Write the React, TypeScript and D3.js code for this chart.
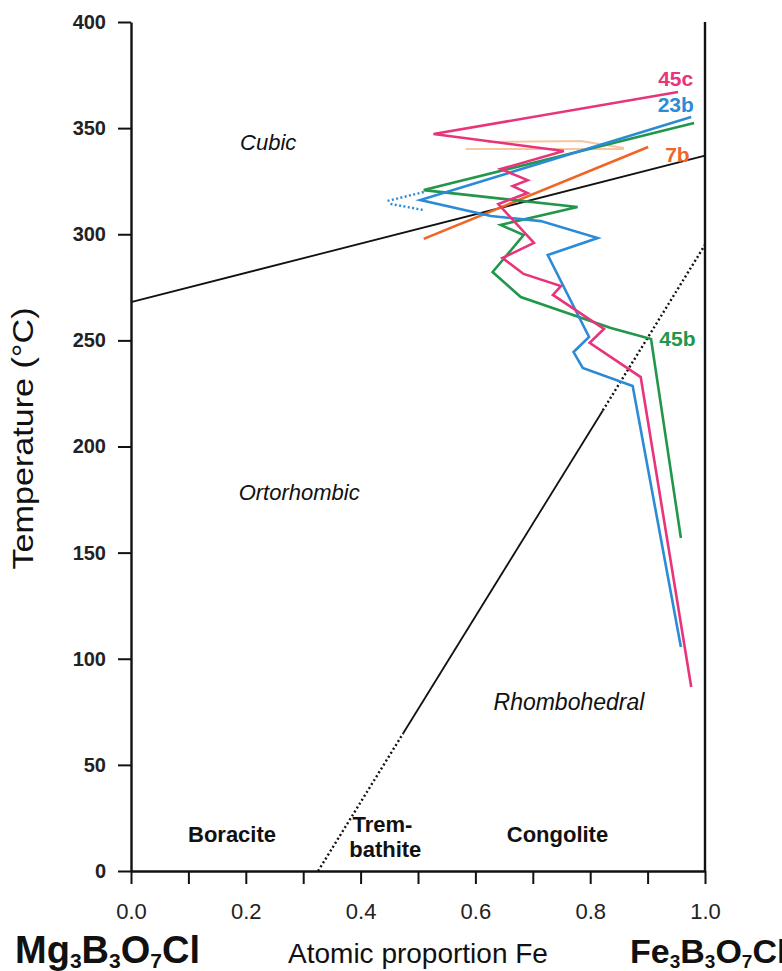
import { useEffect, useRef } from 'react';
import * as d3 from 'd3';

// axis ticks
const xTickValues = [0, 0.1, 0.2, 0.3, 0.4, 0.5, 0.6, 0.7, 0.8, 0.9, 1.0];
const xTickLabels = ['0.0', '', '0.2', '', '0.4', '', '0.6', '', '0.8', '', '1.0'];
const yTickValues = [0, 50, 100, 150, 200, 250, 300, 350, 400];

// sample traces: [atomic proportion Fe, temperature °C]
const s45c: [number, number][] = [
  [0.953, 367], [0.527, 347.2], [0.754, 339.2], [0.644, 330.7], [0.691, 325.5],
  [0.665, 322.7], [0.691, 319.4], [0.640, 314.2], [0.702, 295.9], [0.647, 288.8],
  [0.684, 281.3], [0.749, 275.6], [0.735, 271.4], [0.824, 255.4], [0.799, 248.8],
  [0.888, 232.7], [0.976, 86.7],
];
const s23b: [number, number][] = [
  [0.976, 355.2], [0.504, 316.1], [0.627, 308.6], [0.714, 306.2], [0.813, 298.2],
  [0.726, 290.2], [0.798, 251.6], [0.771, 244.5], [0.787, 237.0], [0.874, 228.5],
  [0.958, 105.5],
];
const s23bDotUpper: [number, number][] = [[0.447, 315.7], [0.51, 319.9]];
const s23bDotLower: [number, number][] = [[0.452, 314.3], [0.51, 311.4]];
const s45b: [number, number][] = [
  [0.981, 352.4], [0.510, 320.8], [0.778, 312.8], [0.644, 304.4], [0.684, 299.6],
  [0.630, 282.2], [0.679, 270.4], [0.836, 255.8], [0.906, 250.6], [0.958, 156.9],
];
const s7b: [number, number][] = [[0.901, 341.1], [0.510, 297.8]];
const s7bFaintA: [number, number][] = [[0.583, 340.2], [0.859, 340.2]];
const s7bFaintB: [number, number][] = [[0.621, 343.5], [0.784, 343.9], [0.859, 340.6]];

// phase boundaries
const cubicBoundary: [number, number][] = [[0, 268], [1, 337]];
const rhomboDotLow: [number, number][] = [[0.326, 0], [0.4745, 65]];
const rhomboSolid: [number, number][] = [[0.4745, 65], [0.822, 217]];
const rhomboDotHigh: [number, number][] = [[0.822, 217], [1.0, 295]];

// text labels placed in data coordinates
const seriesLabels = [
  { text: '45c', x: 0.949, t: 370, color: '#e8347a' },
  { text: '23b', x: 0.949, t: 357.5, color: '#2b8bd6' },
  { text: '7b', x: 0.952, t: 334, color: '#ef6526' },
  { text: '45b', x: 0.952, t: 247.5, color: '#22964a' },
];
const phaseLabels = [
  { text: 'Cubic', x: 0.239, t: 339.5, italic: true },
  { text: 'Ortorhombic', x: 0.293, t: 175, italic: true },
  { text: 'Rhombohedral', x: 0.763, t: 76, italic: true },
  { text: 'Boracite', x: 0.176, t: 13.5, italic: false },
  { text: 'Trem-', x: 0.438, t: 18.5, italic: false },
  { text: 'bathite', x: 0.443, t: 6.5, italic: false },
  { text: 'Congolite', x: 0.743, t: 13.5, italic: false },
];
const endMembers = ['Mg', 'Fe'];

const FONT = "'Liberation Sans', Arial, Helvetica, sans-serif";

const App = () => {
  const ref = useRef<SVGSVGElement | null>(null);

  useEffect(() => {
    const svg = d3.select(ref.current);
    svg.selectAll('*').remove();

    const x = d3.scaleLinear().domain([0, 1]).range([131, 705]);
    const y = d3.scaleLinear().domain([0, 400]).range([871, 22]);

    svg.append('rect').attr('width', 782).attr('height', 971).attr('fill', '#fff');

    const line = d3.line<[number, number]>().x(d => x(d[0])).y(d => y(d[1]));

    // phase boundaries
    const solid = (data: [number, number][]) =>
      svg.append('path').datum(data).attr('d', line)
        .attr('fill', 'none').attr('stroke', '#111').attr('stroke-width', 1.8);
    const dotted = (data: [number, number][]) =>
      svg.append('path').datum(data).attr('d', line)
        .attr('fill', 'none').attr('stroke', '#111').attr('stroke-width', 2.4)
        .attr('stroke-dasharray', '2 2.6');
    solid(cubicBoundary);
    dotted(rhomboDotLow);
    solid(rhomboSolid);
    dotted(rhomboDotHigh);

    // faint 7b trace
    [s7bFaintA, s7bFaintB].forEach(d => {
      svg.append('path').datum(d).attr('d', line)
        .attr('fill', 'none').attr('stroke', '#f8c6a2').attr('stroke-width', 2);
    });

    const trace = (data: [number, number][], color: string, dash?: string) => {
      const p = svg.append('path').datum(data).attr('d', line)
        .attr('fill', 'none').attr('stroke', color).attr('stroke-width', 2.6)
        .attr('stroke-linejoin', 'miter');
      if (dash) p.attr('stroke-dasharray', dash).attr('stroke-width', 2.4);
    };
    trace(s23bDotUpper, '#2b8bd6', '2 2.4');
    trace(s23bDotLower, '#2b8bd6', '2 2.4');
    trace(s7b, '#ef6526');
    trace(s45b, '#22964a');
    trace(s23b, '#2b8bd6');
    trace(s45c, '#e8347a');

    // frame on the right
    svg.append('line').attr('x1', x(1)).attr('x2', x(1)).attr('y1', y(400)).attr('y2', y(0))
      .attr('stroke', '#111').attr('stroke-width', 2.4);

    // y axis
    const yAxis = svg.append('g').attr('transform', `translate(${x(0)},0)`)
      .call(d3.axisLeft(y).tickValues(yTickValues).tickSize(13).tickSizeOuter(0)
        .tickPadding(12).tickFormat(d3.format('d')));
    yAxis.select('.domain').attr('stroke', '#111').attr('stroke-width', 2.4);
    yAxis.selectAll('.tick line').attr('stroke', '#111').attr('stroke-width', 2);
    yAxis.selectAll('.tick text').attr('font-family', FONT).attr('font-size', 20)
      .attr('font-weight', 'bold').attr('fill', '#222');

    // x axis
    const xAxis = svg.append('g').attr('transform', `translate(0,${y(0)})`)
      .call(d3.axisBottom(x).tickValues(xTickValues).tickSize(13).tickSizeOuter(0).tickPadding(19)
        .tickFormat((_, i) => xTickLabels[i]));
    xAxis.select('.domain').attr('stroke', '#111').attr('stroke-width', 2.4);
    xAxis.selectAll('.tick line').attr('stroke', '#111').attr('stroke-width', 2);
    xAxis.selectAll('.tick text').attr('font-family', FONT).attr('font-size', 22).attr('fill', '#222');

    // axis titles
    svg.append('text').attr('transform', `translate(33,${y(200) - 8}) rotate(-90)`)
      .attr('text-anchor', 'middle').attr('font-family', FONT).attr('font-size', 29)
      .attr('textLength', 262).attr('lengthAdjust', 'spacingAndGlyphs')
      .attr('fill', '#111').text('Temperature (°C)');

    svg.append('text').attr('x', 418).attr('y', 963).attr('text-anchor', 'middle')
      .attr('font-family', FONT).attr('font-size', 28).attr('fill', '#111')
      .text('Atomic proportion Fe');

    // end-member formulas with subscripts
    const formula = (x0: number, size: number, metal: string) => {
      const base = 963;
      const t = svg.append('text').attr('x', x0).attr('y', base)
        .attr('font-family', FONT).attr('font-weight', 'bold').attr('font-size', size).attr('fill', '#111');
      const parts: [string, boolean][] = [
        [metal, false], ['3', true], ['B', false], ['3', true], ['O', false], ['7', true], ['Cl', false],
      ];
      parts.forEach(([s, sub]) => {
        t.append('tspan').attr('y', sub ? base + 5 : base)
          .attr('font-size', sub ? Math.round(size * 0.55) : size).text(s);
      });
    };
    formula(15, 38, endMembers[0]);
    formula(630, 34, endMembers[1]);

    // sample labels
    seriesLabels.forEach(l => {
      svg.append('text').attr('x', x(l.x)).attr('y', y(l.t)).attr('text-anchor', 'middle')
        .attr('font-family', FONT).attr('font-weight', 'bold').attr('font-size', 21)
        .attr('fill', l.color).text(l.text);
    });

    // phase labels
    phaseLabels.forEach(l => {
      svg.append('text').attr('x', x(l.x)).attr('y', y(l.t)).attr('text-anchor', 'middle')
        .attr('font-family', FONT).attr('font-size', l.text === 'Rhombohedral' ? 23 : 22)
        .attr('font-style', l.italic ? 'italic' : 'normal')
        .attr('font-weight', l.italic ? 'normal' : 'bold')
        .attr('fill', '#111').text(l.text);
    });
  }, []);

  return (
    <div style={{ position: 'absolute', left: 0, top: 0 }}>
      <svg ref={ref} width={782} height={971} style={{ display: 'block' }} />
    </div>
  );
};

export default App;
